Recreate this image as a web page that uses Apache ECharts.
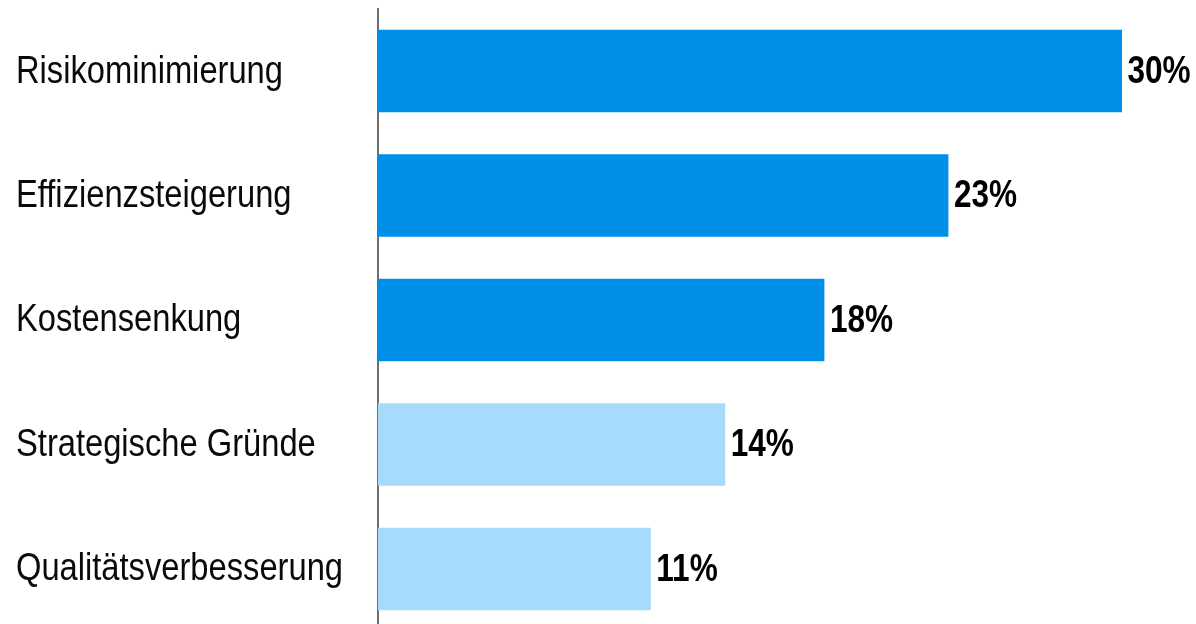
<!DOCTYPE html>
<html>
<head>
<meta charset="utf-8">
<script src="https://cdn.jsdelivr.net/npm/echarts@6/dist/echarts.min.js"></script>
<style>html,body{margin:0;padding:0;background:#fff}#c{width:1196px;height:624px}</style>
</head>
<body>
<div id="c"></div>
<script>
const categories = ["Risikominimierung","Effizienzsteigerung","Kostensenkung","Strategische Gründe","Qualitätsverbesserung"];
const values = [30, 23, 18, 14, 11];
const barColors = ["#0090EA","#0090EA","#0090EA","#A6DBFC","#A6DBFC"];

const chart = echarts.init(document.getElementById('c'));
chart.setOption({
  animation: false,
  grid: { left: 378, top: 8.8, width: 744, height: 622.4, containLabel: false, outerBoundsMode: 'none' },
  xAxis: { type: 'value', min: 0, max: 30, show: false },
  yAxis: {
    type: 'category', data: categories, inverse: true, offset: 1,
    axisLine: { show: true, lineStyle: { color: '#6E6E6E', width: 2 } },
    axisTick: { show: false },
    axisLabel: { show: false }
  },
  series: [{
    type: 'bar', barWidth: 82.6,
    data: values.map((v, i) => ({ value: v, itemStyle: { color: barColors[i] } }))
  }, {
    // value labels (condensed bold)
    type: 'custom', clip: false, z: 5,
    data: values.map((v, i) => [v, i]),
    renderItem: function (params, api) {
      const p = api.coord([api.value(0), api.value(1)]);
      return {
        type: 'text', x: p[0] + 5.5, y: p[1] + 1, scaleX: 0.82,
        style: { text: api.value(0) + '%', font: 'bold 38.5px "Liberation Sans", Arial, sans-serif', fill: '#000', align: 'left', verticalAlign: 'middle' }
      };
    }
  }, {
    // category labels (slightly condensed)
    type: 'custom', clip: false, z: 5,
    data: categories.map((c, i) => [0, i]),
    renderItem: function (params, api) {
      const p = api.coord([0, api.value(1)]);
      return {
        type: 'text', x: 16, y: p[1] + 1, scaleX: 0.86,
        style: { text: categories[params.dataIndex], font: '38px "Liberation Sans", Arial, sans-serif', fill: '#0a0a0a', align: 'left', verticalAlign: 'middle' }
      };
    }
  }]
});
</script>
</body>
</html>
